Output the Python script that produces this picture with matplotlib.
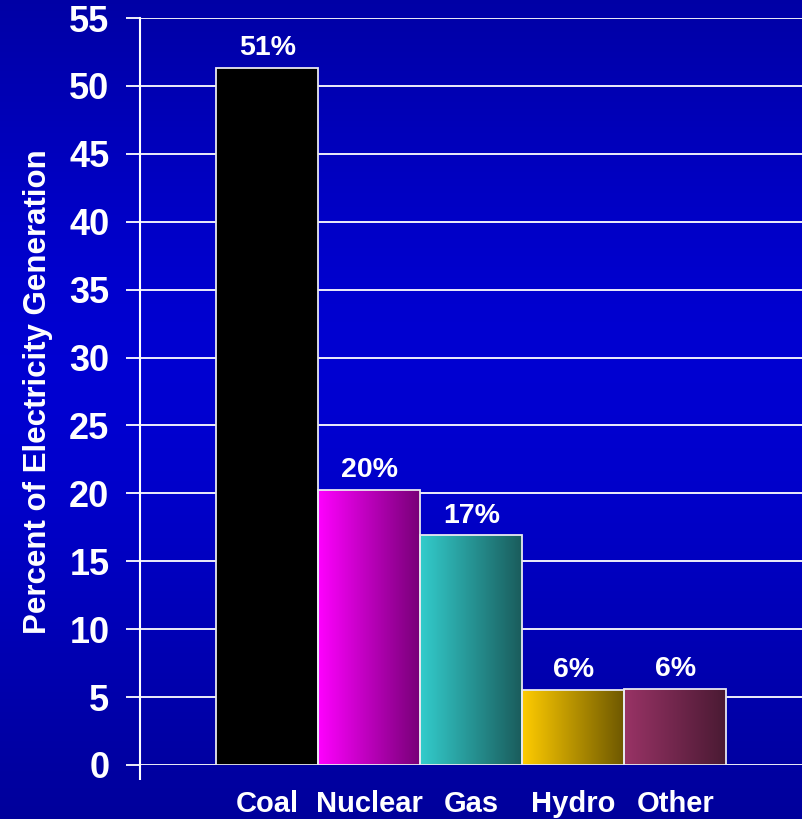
import numpy as np
import matplotlib
matplotlib.use("Agg")
import matplotlib.pyplot as plt
from matplotlib.colors import LinearSegmentedColormap

# share of electricity generation by source, percent
sources = ["Coal", "Nuclear", "Gas", "Hydro", "Other"]
shares = [51.3, 20.25, 16.9, 5.5, 5.6]
# left (light) -> right (dark) fill colours per bar
bar_light = ["#000000", "#ff00ff", "#33cccc", "#ffcc00", "#993366"]
bar_dark = ["#000000", "#780078", "#1a5c5c", "#6e5800", "#4a1a33"]
yticks = [0, 5, 10, 15, 20, 25, 30, 35, 40, 45, 50, 55]

plt.rcParams["font.family"] = ["Liberation Sans", "DejaVu Sans"]
plt.rcParams["font.weight"] = "bold"

fig = plt.figure(figsize=(8.03, 8.19), dpi=100)

# blue backdrop, brighter through the middle
bg = fig.add_axes([0, 0, 1, 1], zorder=-10)
bg.axis("off")
t = np.linspace(0, 1, 400)
prof = np.exp(-((t - 0.55) / 0.45) ** 2)
blue = 0.55 + 0.27 * prof
img = np.zeros((400, 2, 3))
img[:, :, 2] = blue[:, None]
bg.imshow(img, aspect="auto", extent=[0, 1, 0, 1], origin="lower")

ax = fig.add_axes([140 / 803, 54 / 819, 663 / 803, 747 / 819])
ax.patch.set_alpha(0)
x = np.arange(len(sources))

for y in yticks:
    ax.axhline(y, color="white", lw=1.3, zorder=1)

bars = ax.bar(x, shares, width=1.0, facecolor="none", edgecolor="#e8e8f0", lw=1.3, zorder=4)
for b, c0, c1 in zip(bars, bar_light, bar_dark):
    cmap = LinearSegmentedColormap.from_list("g", [c0, c1])
    grad = np.linspace(0, 1, 256)[None, :]
    x0, y0 = b.get_x(), b.get_y()
    im = ax.imshow(grad, cmap=cmap, aspect="auto", zorder=3,
                   extent=[x0, x0 + b.get_width(), y0, y0 + b.get_height()])
    im.set_clip_path(b)
    ax.annotate(f"{b.get_height():.0f}%", (x0 + b.get_width() / 2, b.get_height()),
                xytext=(0, 5), textcoords="offset points", ha="center", va="bottom",
                color="white", fontsize=20.5, fontweight="bold")

ax.set_xlim(-1.25, -1.25 + 663 / 102)
ax.set_ylim(0, 55)

for s in ["top", "right", "bottom"]:
    ax.spines[s].set_visible(False)
ax.spines["left"].set_color("white")
ax.spines["left"].set_linewidth(1.5)
ax.spines["left"].set_zorder(5)

ax.set_yticks(yticks)
ax.tick_params(axis="y", colors="white", length=10, width=1.3, pad=12, labelsize=26)
ax.set_xticks(x)
ax.set_xticklabels(sources)
ax.tick_params(axis="x", colors="white", length=0, pad=18, labelsize=21)
ax.set_xticks([-1.25], minor=True)
ax.tick_params(axis="x", which="minor", colors="white", length=11, width=1.5)
for lab in ax.get_xticklabels() + ax.get_yticklabels():
    lab.set_fontweight("bold")

ax.set_ylabel("Percent of Electricity Generation", color="white", fontsize=22.5,
              fontweight="bold", labelpad=12)

fig.savefig("out.png", dpi=100)
